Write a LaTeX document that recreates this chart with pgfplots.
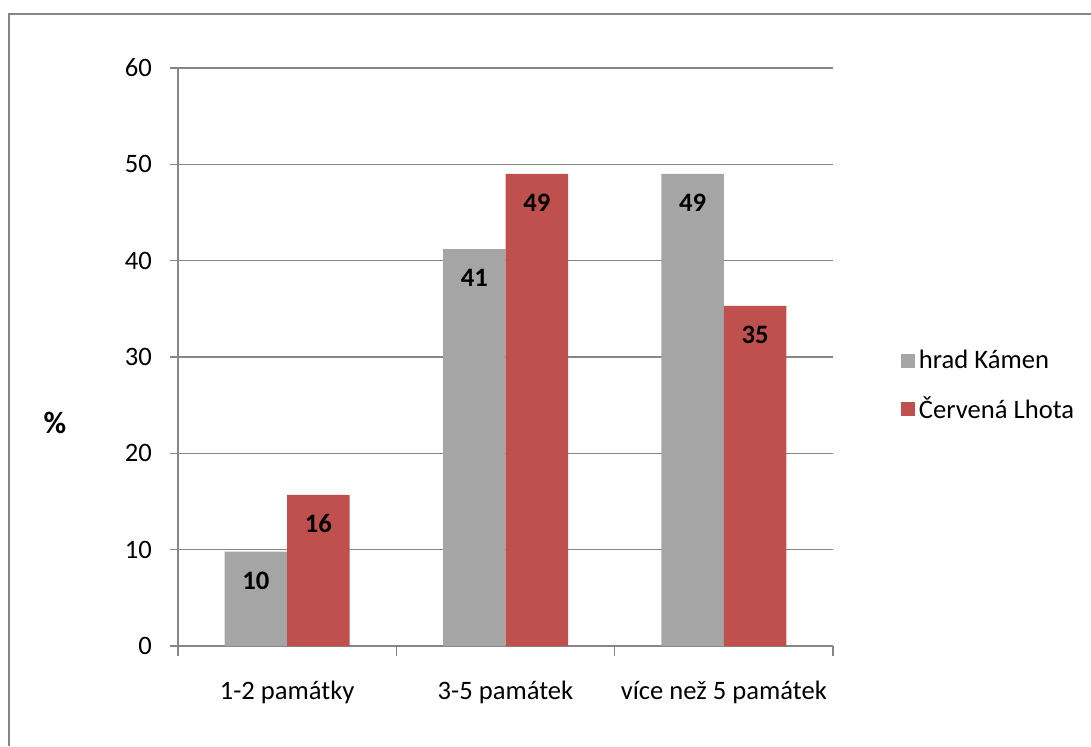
\documentclass[border=0pt]{standalone}
\usepackage{pgfplots}
\pgfplotsset{compat=1.18}
\usepackage{fontspec}
\setmainfont{Carlito}
\definecolor{kamen}{HTML}{A5A5A5}
\definecolor{lhota}{HTML}{C0504D}
\definecolor{linegray}{RGB}{134,134,134}
\begin{document}
\fontsize{13.3}{16}\selectfont
\begin{tikzpicture}
\useasboundingbox (0,0) rectangle (545.5pt,373pt);
% chart frame
\draw[linegray, line width=1pt] (4.5pt,0) -- (4.5pt,366pt) -- (545.5pt,366pt);
\begin{axis}[
  at={(89pt,50pt)}, anchor=south west,
  scale only axis, width=327.5pt, height=289pt,
  /pgf/number format/assume math mode=true,
  font=\fontsize{13.3}{16}\selectfont,
  ymin=0, ymax=60, ytick={0,10,...,60},
  xmin=-0.5, xmax=2.5,
  xtick={0,1,2},
  xticklabels={1-2 památky,3-5 památek,více než 5 památek},
  minor xtick={-0.5,0.5,1.5,2.5},
  axis x line=bottom, axis y line=left,
  axis line style={-, linegray, line width=0.75pt},
  ymajorgrids, grid style={linegray, line width=0.75pt},
  tick align=outside,
  major tick length=4pt, minor tick length=5pt,
  major x tick style={draw=none},
  minor x tick style={linegray, line width=0.75pt},
  ytick style={linegray, line width=0.75pt},
  yticklabel style={xshift=-4.5pt},
  xticklabel style={yshift=-9pt},
  ylabel={\fontsize{15.5}{18}\selectfont\bfseries\%},
  ylabel style={rotate=-90, at={(-0.188,0.386)}, anchor=center},
  ybar=0pt, bar width=31.25pt,
  nodes near coords={\pgfmathprintnumber[fixed,precision=0]{\pgfplotspointmeta}},
  every node near coord/.append style={font=\fontsize{13.3}{16}\selectfont\bfseries, black, anchor=center, yshift=-14.5pt},
  every axis plot post/.append style={legend image code/.code={\fill[##1] (0pt,-3.5pt) rectangle (7pt,3.5pt);}},
  legend style={draw=none, fill=none, at={(1.094,0.45)}, anchor=west,
    font=\fontsize{13.3}{16}\selectfont, row sep=8pt,
    /tikz/every even column/.append style={column sep=0pt}},
  legend cell align=left,
]
\addplot[fill=kamen, draw=none] coordinates {(0,9.8) (1,41.2) (2,49.0)};
\addlegendentry{hrad Kámen}
\addplot[fill=lhota, draw=none] coordinates {(0,15.7) (1,49.0) (2,35.3)};
\addlegendentry{Červená Lhota}
\end{axis}
\end{tikzpicture}
\end{document}
